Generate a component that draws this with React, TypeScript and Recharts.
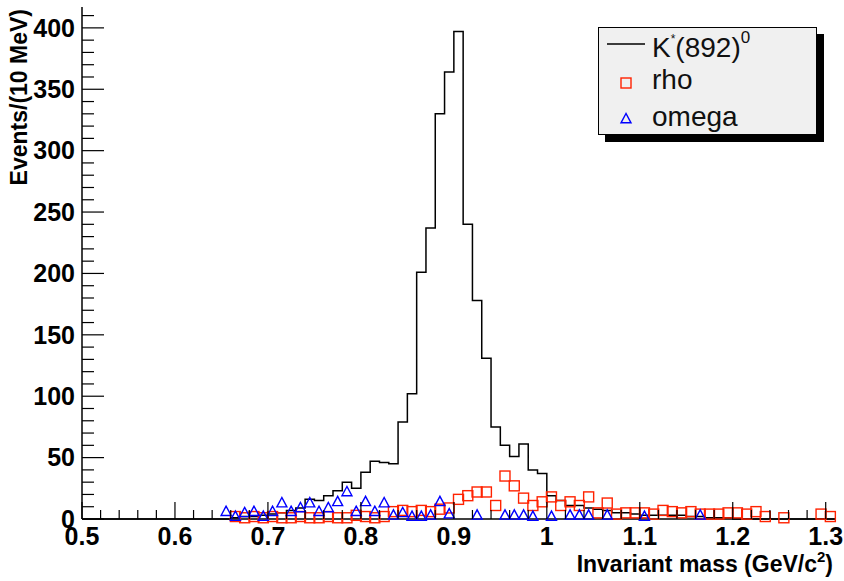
import { ComposedChart, Line, Scatter, XAxis, YAxis } from 'recharts';

// histogram binning: 10 MeV bins from 0.50 GeV
const BIN_START = 0.5;
const BIN_WIDTH = 0.01;

// K*(892)0 counts per bin, 0.50 .. 1.31
const kstarCounts = [
  0, 0, 0, 0, 0, 0, 0, 0, 0, 0, // 0.50-0.59
  0, 0, 0, 0, 0, 0, 1, 2, 2, 3, // 0.60-0.69
  4, 5, 7, 9, 16, 15, 19, 23, 30, 25, // 0.70-0.79
  38, 47, 46, 45, 79, 102, 201, 237, 330, 364, // 0.80-0.89
  397, 240, 178, 131, 75, 60, 51, 61, 40, 37, // 0.90-0.99
  19, 15, 11, 11, 9, 8, 7, 5, 5, 4, // 1.00-1.09
  3, 3, 3, 3, 3, 2, 2, 1, 1, 1, // 1.10-1.19
  0, 0, 0, 0, 0, 0, 0, 0, 0, 0, // 1.20-1.29
  0, // 1.30
];

// rho, bin centres with non-empty bins only
const rhoMass = [
  0.665, 0.675, 0.685, 0.695, 0.705, 0.715, 0.725, 0.735, 0.745, 0.755,
  0.765, 0.775, 0.785, 0.795, 0.805, 0.815, 0.825, 0.835, 0.845, 0.855,
  0.865, 0.875, 0.885, 0.895, 0.905, 0.915, 0.925, 0.935, 0.945, 0.955,
  0.965, 0.975, 0.985, 0.995, 1.005, 1.015, 1.025, 1.035, 1.045, 1.055,
  1.065, 1.075, 1.085, 1.095, 1.105, 1.115, 1.125, 1.135, 1.145, 1.155,
  1.165, 1.175, 1.185, 1.195, 1.205, 1.215, 1.225, 1.235,
  1.255, 1.295, 1.305,
];
const rhoCounts = [
  2, 1, 2, 1, 2, 1, 1, 2, 1, 1,
  2, 1, 1, 3, 2, 1, 2, 6, 7, 6,
  7, 6, 8, 9, 16, 19, 22, 22, 11, 35,
  27, 17, 11, 14, 18, 11, 14, 11, 18, 5,
  13, 4, 5, 5, 5, 4, 7, 6, 5, 6,
  4, 4, 4, 5, 5, 4, 6, 2,
  1, 4, 2,
];

// omega
const omegaMass = [
  0.655, 0.665, 0.675, 0.685, 0.695, 0.705, 0.715, 0.725, 0.735, 0.745,
  0.755, 0.765, 0.775, 0.785, 0.795, 0.805, 0.815, 0.825, 0.835, 0.845,
  0.855, 0.865, 0.875, 0.885, 0.895,
  0.925, 0.955, 0.965, 0.975, 0.985, 1.005, 1.025, 1.035, 1.045, 1.065,
  1.105, 1.165,
];
const omegaCounts = [
  6, 2, 5, 6, 2, 6, 13, 6, 9, 13,
  6, 9, 14, 22, 6, 14, 6, 13, 3, 5,
  2, 2, 3, 14, 4,
  3, 3, 3, 3, 2, 2, 3, 3, 3, 3,
  2, 3,
];

const xMajor = [0.5, 0.6, 0.7, 0.8, 0.9, 1.0, 1.1, 1.2, 1.3];
const xLabels = ['0.5', '0.6', '0.7', '0.8', '0.9', '1', '1.1', '1.2', '1.3'];
const yMajor = [0, 50, 100, 150, 200, 250, 300, 350, 400];
const yLabels = ['0', '50', '100', '150', '200', '250', '300', '350', '400'];

const X_DOMAIN: [number, number] = [0.5, 1.31];
const Y_DOMAIN: [number, number] = [0, 417];

const FONT = '"Liberation Sans", Arial, Helvetica, sans-serif';
const RED = '#ff2200';
const BLUE = '#0000ff';

const kstarData = kstarCounts.map((c, i) => ({
  x: Math.round((BIN_START + i * BIN_WIDTH) * 1000) / 1000,
  y: c,
}));
// closing edge so the last step is drawn
kstarData.push({ x: X_DOMAIN[1], y: 0 });

const rhoData = rhoMass.map((m, i) => ({ x: m, y: rhoCounts[i] }));
const omegaData = omegaMass.map((m, i) => ({ x: m, y: omegaCounts[i] }));

// minor ticks every 0.02 / 10 events
const xTicks: number[] = [];
for (let i = 0; i <= 40; i++) xTicks.push(Math.round((0.5 + i * 0.02) * 100) / 100);
const yTicks: number[] = [];
for (let v = 0; v <= 410; v += 10) yTicks.push(v);

function XTick({ x, y, payload }: any) {
  const idx = xMajor.findIndex((m) => Math.abs(m - payload.value) < 1e-6);
  const major = idx >= 0;
  return (
    <g>
      <line x1={x} x2={x} y1={y} y2={y - (major ? 17 : 9)} stroke="#000" strokeWidth={1.2} />
      {major && (
        <text x={x} y={y + 26} textAnchor="middle" fontSize={25} fontWeight="bold" fontFamily={FONT} fill="#000">
          {xLabels[idx]}
        </text>
      )}
    </g>
  );
}

function YTick({ x, y, payload }: any) {
  const idx = yMajor.indexOf(payload.value);
  const major = idx >= 0;
  return (
    <g>
      <line x1={x} x2={x + (major ? 22 : 12)} y1={y} y2={y} stroke="#000" strokeWidth={1.2} />
      {major && (
        <text x={x - 7} y={y} dy="0.35em" textAnchor="end" fontSize={25} fontWeight="bold" fontFamily={FONT} fill="#000">
          {yLabels[idx]}
        </text>
      )}
    </g>
  );
}

function Square({ cx, cy }: any) {
  return <rect x={cx - 5} y={cy - 5} width={10} height={10} fill="none" stroke={RED} strokeWidth={1.4} />;
}

function Triangle({ cx, cy }: any) {
  return (
    <polygon
      points={`${cx},${cy - 5.5} ${cx - 5},${cy + 3.8} ${cx + 5},${cy + 3.8}`}
      fill="none"
      stroke={BLUE}
      strokeWidth={1.4}
    />
  );
}

function XTitle({ viewBox }: any) {
  const right = viewBox.x + viewBox.width - 2;
  const base = viewBox.y + 53;
  return (
    <text x={right} y={base} textAnchor="end" fontSize={23} fontWeight="bold" fontFamily={FONT} fill="#000">
      Invariant mass (GeV/c
      <tspan dy={-10} fontSize={15}>2</tspan>
      <tspan dy={10}>)</tspan>
    </text>
  );
}

function YTitle() {
  return (
    <text
      x={27}
      y={9}
      transform="rotate(-90, 27, 9)"
      textAnchor="end"
      fontSize={23}
      fontWeight="bold"
      fontFamily={FONT}
      fill="#000"
    >
      Events/(10 MeV)
    </text>
  );
}

function LegendBox() {
  return (
    <div
      style={{
        position: 'absolute',
        left: 598,
        top: 27,
        width: 217,
        height: 106,
        background: '#f0f0f0',
        border: '1px solid #000',
        boxShadow: '7px 7px 0 #000',
      }}
    >
      <svg width={217} height={106} style={{ display: 'block', overflow: 'visible' }}>
        <line x1={8} x2={46} y1={16} y2={16} stroke="#000" strokeWidth={1.5} />
        <text x={53} y={29} fontSize={28} fontFamily={FONT} fill="#111">
          K<tspan dy={-14} fontSize={12}>*</tspan>
          <tspan dy={14}>(892)</tspan>
          <tspan dy={-14} fontSize={17}>0</tspan>
        </text>
        <Square cx={27} cy={55} />
        <text x={53} y={61} fontSize={28} fontFamily={FONT} fill="#111">rho</text>
        <Triangle cx={27} cy={91} />
        <text x={53} y={98} fontSize={28} fontFamily={FONT} fill="#111">omega</text>
      </svg>
    </div>
  );
}

export default function App() {
  return (
    <div style={{ position: 'absolute', left: 0, top: 0, width: 844, height: 581, background: '#fff' }}>
      <ComposedChart width={844} height={581} margin={{ top: 7, right: 9, bottom: 0, left: 0 }}>
        <XAxis
          dataKey="x"
          type="number"
          domain={X_DOMAIN}
          ticks={xTicks}
          interval={0}
          height={62}
          tickSize={0}
          tickMargin={0}
          tickLine={false}
          axisLine={{ stroke: '#000', strokeWidth: 1.5 }}
          tick={(p: any) => <XTick {...p} />}
          label={(p: any) => <XTitle {...p} />}
        />
        <XAxis
          xAxisId="top"
          orientation="top"
          dataKey="x"
          type="number"
          domain={X_DOMAIN}
          height={0}
          tick={false}
          tickLine={false}
          axisLine={{ stroke: '#000', strokeWidth: 1.5 }}
        />
        <YAxis
          type="number"
          domain={Y_DOMAIN}
          ticks={yTicks}
          interval={0}
          width={82}
          tickSize={0}
          tickMargin={0}
          tickLine={false}
          axisLine={{ stroke: '#000', strokeWidth: 1.5 }}
          tick={(p: any) => <YTick {...p} />}
          label={() => <YTitle />}
        />
        <YAxis
          yAxisId="right"
          orientation="right"
          type="number"
          domain={Y_DOMAIN}
          width={0}
          tick={false}
          tickLine={false}
          axisLine={{ stroke: '#000', strokeWidth: 1.5 }}
        />
        <Line
          data={kstarData}
          dataKey="y"
          type="stepAfter"
          stroke="#000"
          strokeWidth={1.5}
          dot={false}
          isAnimationActive={false}
        />
        <Scatter data={rhoData} dataKey="y" shape={<Square />} isAnimationActive={false} />
        <Scatter data={omegaData} dataKey="y" shape={<Triangle />} isAnimationActive={false} />
      </ComposedChart>
      <LegendBox />
    </div>
  );
}
